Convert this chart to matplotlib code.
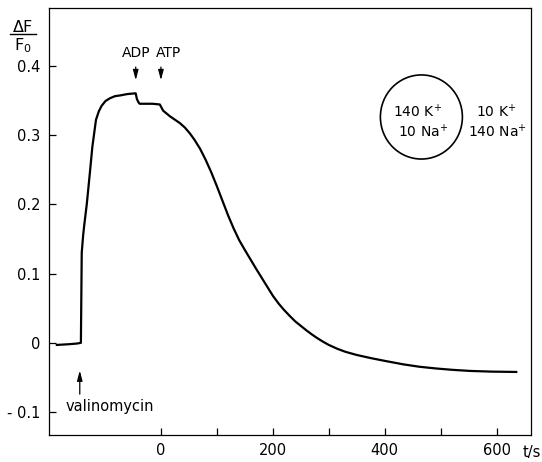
import matplotlib
matplotlib.use("Agg")
import matplotlib.pyplot as plt
from matplotlib.patches import Ellipse
from matplotlib.lines import Line2D

plt.rcParams['font.family'] = ['DejaVu Sans']
plt.rcParams['mathtext.default'] = 'regular'

# fluorescence trace, time in s, signal as dF/F0
t = [-186, -165, -150, -143, -141.5, -139, -137, -132.5, -127, -122.5, -116,
     -111, -106, -99, -91, -82, -73, -60, -47, -45, -43, -40, -38, -30, -15,
     -2, 0, 4, 10, 16, 25, 34, 43, 52, 60, 70, 80, 90, 100, 110, 120, 130,
     140, 150, 160, 170, 180, 190, 200, 210, 220, 230, 240, 250, 260, 270,
     280, 290, 300, 315, 330, 350, 375, 400, 433, 462, 492, 522, 552, 590, 635]
dff = [-0.003, -0.002, -0.001, 0.0, 0.13, 0.155, 0.17, 0.2, 0.245, 0.283,
       0.322, 0.334, 0.342, 0.349, 0.353, 0.356, 0.357, 0.359, 0.360, 0.360,
       0.352, 0.347, 0.345, 0.345, 0.345, 0.344, 0.341, 0.335, 0.331, 0.327,
       0.322, 0.317, 0.3105, 0.302, 0.293, 0.280, 0.264, 0.246, 0.226, 0.205,
       0.184, 0.165, 0.148, 0.134, 0.1205, 0.107, 0.094, 0.081, 0.068, 0.057,
       0.0475, 0.039, 0.031, 0.0245, 0.018, 0.012, 0.0065, 0.0015, -0.003,
       -0.0085, -0.013, -0.0175, -0.022, -0.026, -0.031, -0.0345, -0.037,
       -0.039, -0.0405, -0.0415, -0.042]

x_ticks = [0, 100, 200, 300, 400, 500, 600]
x_labels = ["0", "", "200", "", "400", "", "600"]
y_ticks = [-0.1, 0, 0.1, 0.2, 0.3, 0.4]
y_labels = ["- 0.1", "0", "0.1", "0.2", "0.3", "0.4"]

# additions: label and time of the addition
adp = ("ADP", -45)
atp = ("ATP", 0)
valino = ("valinomycin", -145)

fig = plt.figure(figsize=(5.42, 4.62), dpi=100)
ax = fig.add_axes([0.0904, 0.0584, 0.890, 0.924])

ax.plot(t, dff, color="black", lw=1.6, solid_joinstyle="round")

ax.set_xlim(-200, 662)
ax.set_ylim(-0.133, 0.483)
ax.set_xticks(x_ticks)
ax.set_xticklabels(x_labels)
ax.set_yticks(y_ticks)
ax.set_yticklabels(y_labels)
ax.tick_params(direction="in", length=5, width=0.9, labelsize=10.5,
               colors="black", pad=6)
for s in ax.spines.values():
    s.set_linewidth(0.9)

arrow = dict(arrowstyle="-|>,head_length=0.6,head_width=0.16", color="black", lw=0.9)
ax.annotate("", xy=(adp[1], 0.375), xytext=(adp[1], 0.402), arrowprops=arrow)
ax.text(adp[1], 0.418, adp[0], ha="center", va="center", fontsize=10)
ax.annotate("", xy=(atp[1], 0.375), xytext=(atp[1], 0.402), arrowprops=arrow)
ax.text(atp[1] + 13, 0.418, atp[0], ha="center", va="center", fontsize=10)

ax.annotate("", xy=(valino[1], -0.036), xytext=(valino[1], -0.078),
            arrowprops=arrow)
ax.text(-91, -0.092, valino[0], ha="center", va="center", fontsize=10.5)

# cell with inside / outside ion concentrations
ax.add_patch(Ellipse((0.772, 0.745), 0.170, 0.197, transform=ax.transAxes,
                     fill=False, lw=1.2, color="black"))
ax.text(0.765, 0.757, "140 K$^{+}$", transform=ax.transAxes, ha="center",
        va="center", fontsize=10)
ax.text(0.776, 0.710, "10 Na$^{+}$", transform=ax.transAxes, ha="center",
        va="center", fontsize=10)
ax.text(0.928, 0.757, "10 K$^{+}$", transform=ax.transAxes, ha="center",
        va="center", fontsize=10)
ax.text(0.930, 0.710, "140 Na$^{+}$", transform=ax.transAxes, ha="center",
        va="center", fontsize=10)

# y axis label as a stacked fraction
fig.text(23 / 542, 1 - 27 / 462, "ΔF", ha="center", va="center", fontsize=11.5)
fig.add_artist(Line2D([10 / 542, 36 / 542], [1 - 34 / 462, 1 - 34 / 462],
                      color="black", lw=1.0))
fig.text(23 / 542, 1 - 46 / 462, "F$_0$", ha="center", va="center",
         fontsize=11.5)
fig.text(532 / 542, 1 - 453 / 462, "t/s", ha="center", va="center",
         fontsize=10.5)

fig.savefig("out.png", dpi=100)
